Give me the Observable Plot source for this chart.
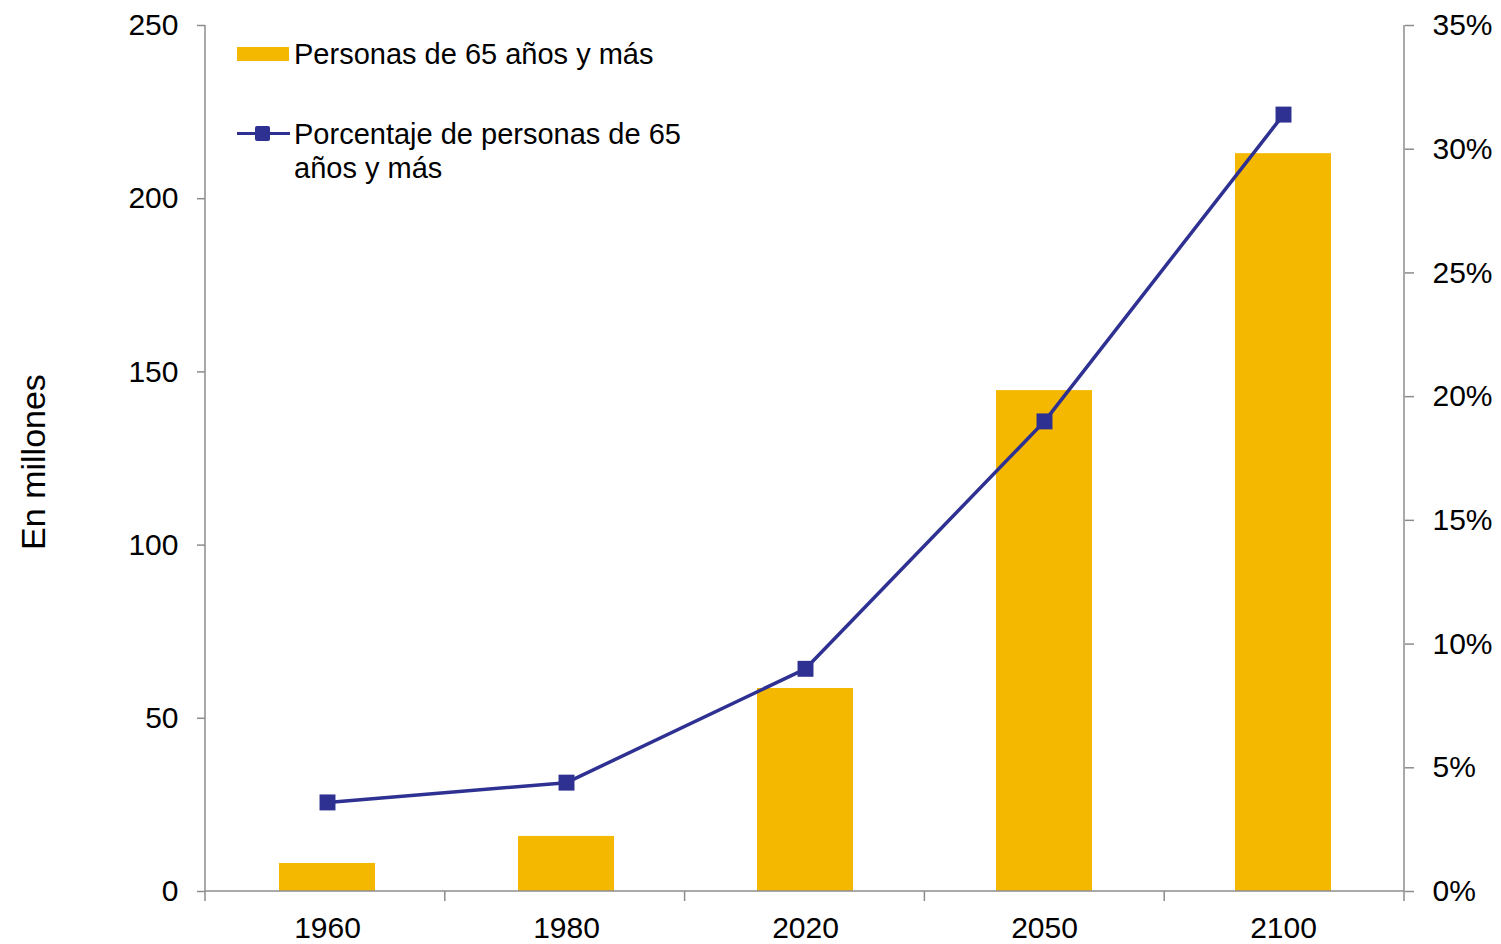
<!DOCTYPE html>
<html>
<head>
<meta charset="utf-8">
<script src="https://cdn.jsdelivr.net/npm/d3@7"></script>
<script src="https://cdn.jsdelivr.net/npm/@observablehq/plot@0.6"></script>
<style>
  html, body { margin: 0; padding: 0; background: #fff; }
  #wrap { position: relative; width: 1501px; height: 944px; font-family: "Liberation Sans", Arial, sans-serif; }
  .leg { position: absolute; font-size: 29px; color: #000; line-height: 34px; white-space: nowrap; }
  .ylab { position: absolute; left: 33px; top: 462px; font-size: 34px; color: #000; white-space: nowrap; transform: translate(-50%, -50%) rotate(-90deg); }
</style>
</head>
<body>
<div id="wrap"></div>
<script>
const years = ["1960", "1980", "2020", "2050", "2100"];
const personas = [8.1, 15.9, 58.6, 144.6, 213.0];
const porcentaje = [3.6, 4.4, 9.0, 19.0, 31.4];
const leftTicks = [0, 50, 100, 150, 200, 250];
const rightTicks = [0, 5, 10, 15, 20, 25, 30, 35];
const leftMax = 250, rightMax = 35;

const barColor = "#F5B800";
const lineColor = "#2E3192";
const axisColor = "#8c8c8c";

const data = years.map((y, i) => ({year: y, personas: personas[i], pct: porcentaje[i]}));
const toLeft = p => p * leftMax / rightMax;

function frameAxes(index, scales, values, dims) {
  const {width, height, marginLeft, marginRight, marginTop, marginBottom} = dims;
  const x0 = marginLeft, x1 = width - marginRight, y0 = marginTop, y1 = height - marginBottom;
  const g = d3.create("svg:g").attr("stroke", axisColor).attr("stroke-width", 1.5).attr("fill", "none");
  g.append("line").attr("x1", x0).attr("x2", x0).attr("y1", y0).attr("y2", y1);
  g.append("line").attr("x1", x1).attr("x2", x1).attr("y1", y0).attr("y2", y1);
  g.append("line").attr("x1", x0).attr("x2", x1).attr("y1", y1).attr("y2", y1);
  const n = years.length;
  for (let i = 0; i <= n; i++) {
    const x = x0 + i * (x1 - x0) / n;
    g.append("line").attr("x1", x).attr("x2", x).attr("y1", y1).attr("y2", y1 + 10);
  }
  return g.node();
}

const chart = Plot.plot({
  width: 1501,
  height: 944,
  marginLeft: 205,
  marginRight: 97,
  marginTop: 25,
  marginBottom: 53,
  style: {fontFamily: "'Liberation Sans', Arial, sans-serif", fontSize: "30px", color: "#000", background: "#fff"},
  x: {type: "band", domain: years, paddingInner: 0.6, paddingOuter: 0.3},
  y: {domain: [0, leftMax]},
  marks: [
    Plot.barY(data, {x: "year", y: "personas", fill: barColor}),
    frameAxes,
    Plot.line(data, {x: "year", y: d => toLeft(d.pct), stroke: lineColor, strokeWidth: 3.5}),
    Plot.dot(data, {x: "year", y: d => toLeft(d.pct), symbol: "square", r: 9, fill: lineColor, stroke: "none"}),
    Plot.axisY({ticks: leftTicks, tickSize: 8, tickPadding: 19, stroke: axisColor, strokeWidth: 1.5, fill: "#000", label: null, fontSize: 30}),
    Plot.axisY({anchor: "right", ticks: rightTicks.map(toLeft), tickFormat: d => Math.round(d * rightMax / leftMax) + "%", tickSize: 9, tickPadding: 19, stroke: axisColor, strokeWidth: 1.5, fill: "#000", label: null, fontSize: 30}),
    Plot.axisX({tickSize: 0, tickPadding: 25, label: null, fill: "#000", fontSize: 30})
  ]
});

const wrap = document.getElementById("wrap");
wrap.appendChild(chart);

const ylab = document.createElement("div");
ylab.className = "ylab";
ylab.textContent = "En millones";
wrap.appendChild(ylab);

// Legend overlay
const leg1sw = document.createElement("div");
leg1sw.style.cssText = `position:absolute;left:237px;top:47px;width:52px;height:14px;background:${barColor};`;
wrap.appendChild(leg1sw);
const leg1 = document.createElement("div");
leg1.className = "leg";
leg1.style.cssText += "left:294px;top:37px;";
leg1.textContent = "Personas de 65 años y más";
wrap.appendChild(leg1);

const leg2line = document.createElement("div");
leg2line.style.cssText = `position:absolute;left:237px;top:132px;width:53px;height:3px;background:${lineColor};`;
wrap.appendChild(leg2line);
const leg2sq = document.createElement("div");
leg2sq.style.cssText = `position:absolute;left:255px;top:126px;width:15px;height:15px;border-radius:2px;background:${lineColor};`;
wrap.appendChild(leg2sq);
const leg2 = document.createElement("div");
leg2.className = "leg";
leg2.style.cssText += "left:294px;top:117px;";
leg2.innerHTML = "Porcentaje de personas de 65<br>años y más";
wrap.appendChild(leg2);
</script>
</body>
</html>
